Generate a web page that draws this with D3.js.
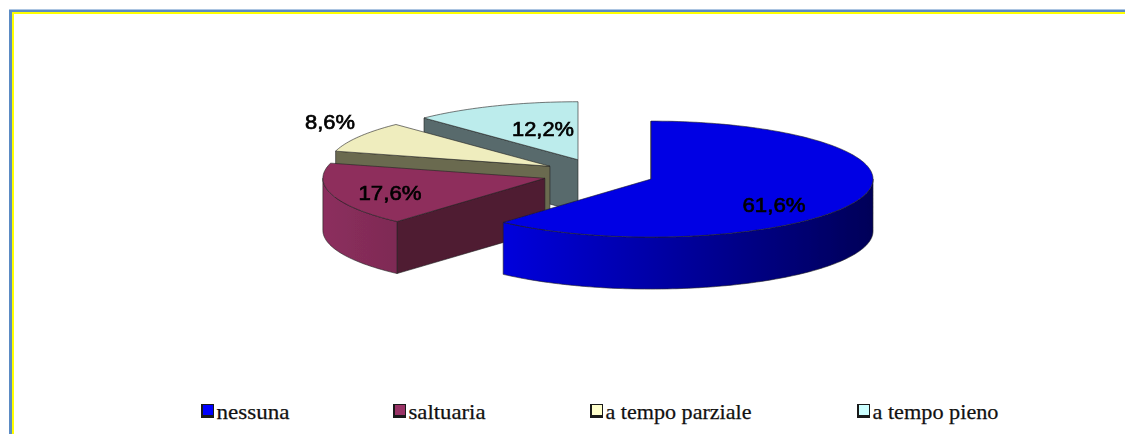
<!DOCTYPE html>
<html>
<head>
<meta charset="utf-8">
<script src="https://cdn.jsdelivr.net/npm/d3@7"></script>
<style>
  html, body { margin: 0; padding: 0; background: #fff; overflow: hidden; }
</style>
</head>
<body>
<div id="chart"></div>
<script>
// values
var categories = ["nessuna", "saltuaria", "a tempo parziale", "a tempo pieno"];
var values = [61.6, 17.6, 8.6, 12.2];
var explode = [0.246, 0.259, 0.262, 0.265];

var topColors = ["#0000e4", "#8e2e5c", "#efedbe", "#bcecec"];
var faceColors = ["#00009a", "#4f1a33", "#6b6a50", "#586a6c"];
var legendColors = ["#0000ff", "#993366", "#ffffcc", "#ccffff"];

var width = 1125, height = 434;
var cx = 600, cy = 174, rx = 222, ry = 58, depth = 52;

var svg = d3.select("#chart").append("svg")
  .attr("width", width)
  .attr("height", height)
  .style("display", "block");

var defs = svg.append("defs");
var soft = defs.append("filter").attr("id", "soft")
  .attr("x", "-5%").attr("y", "-20%").attr("width", "110%").attr("height", "140%");
soft.append("feGaussianBlur").attr("stdDeviation", 0.45);

function wallGradient(id, from, to) {
  var g = defs.append("linearGradient").attr("id", id);
  g.append("stop").attr("offset", "0%").attr("stop-color", from);
  g.append("stop").attr("offset", "100%").attr("stop-color", to);
}
wallGradient("wall0", "#0000dc", "#000058");
wallGradient("wall1", "#8c2f5e", "#7e2a54");

// border of the frame
svg.append("path")
  .attr("d", "M10.5,434V11H1125").attr("fill", "none")
  .attr("stroke", "#5b8bc4").attr("stroke-width", 3);
svg.append("path")
  .attr("d", "M13,434V13H1125").attr("fill", "none")
  .attr("stroke", "#ffff00").attr("stroke-width", 2);

var pie = d3.pie().sort(null).value(function (d) { return d; });
var arcs = pie(values);

var xScale = d3.scaleLinear().domain([-1, 1]).range([-rx, rx]);
var yScale = d3.scaleLinear().domain([-1, 1]).range([ry, -ry]);
var line = d3.line();

function rimPoints(a0, a1, c, dy) {
  var n = Math.max(2, Math.ceil((a1 - a0) * 40));
  return d3.range(n + 1).map(function (i) {
    var a = a0 + (a1 - a0) * i / n;
    return [c[0] + xScale(Math.sin(a)), c[1] + yScale(Math.cos(a)) + dy];
  });
}

var pieG = svg.append("g").attr("filter", "url(#soft)");

function drawPart(d, fill) {
  pieG.append("path")
    .attr("d", line(d) + "Z")
    .attr("fill", fill)
    .attr("stroke", "#222")
    .attr("stroke-width", 0.6)
    .attr("stroke-linejoin", "round");
}

// back slices first, the big one goes on top
[3, 2, 1, 0].forEach(function (i) {
  var a = arcs[i];
  var mid = (a.startAngle + a.endAngle) / 2;
  var c = [
    cx + explode[i] * xScale(Math.sin(mid)),
    cy + explode[i] * yScale(Math.cos(mid))
  ];

  // only the cut at the start angle can be seen from this side
  var p = rimPoints(a.startAngle, a.startAngle, c, 0)[0];
  drawPart([c, p, [p[0], p[1] + depth], [c[0], c[1] + depth]], faceColors[i]);

  // outer wall only where it faces the viewer
  var w0 = Math.max(a.startAngle, Math.PI / 2);
  var w1 = Math.min(a.endAngle, Math.PI * 1.5);
  if (w1 > w0) {
    var up = rimPoints(w0, w1, c, 0);
    var down = rimPoints(w0, w1, c, depth).reverse();
    drawPart(up.concat(down), "url(#wall" + i + ")");
  }

  drawPart([c].concat(rimPoints(a.startAngle, a.endAngle, c, 0)), topColors[i]);
});

// labels
var fmt = function (v) { return v.toFixed(1).replace(".", ",") + "%"; };
var labelPos = [[774, 204], [390, 192], [330, 121], [543, 128]];
var labelW = [63, 63, 50, 62];

svg.append("g").attr("filter", "url(#soft)").selectAll("text")
  .data(values).enter()
  .append("text")
  .attr("x", function (d, i) { return labelPos[i][0]; })
  .attr("y", function (d, i) { return labelPos[i][1]; })
  .attr("dy", "0.36em")
  .attr("text-anchor", "middle")
  .attr("font-family", "'Liberation Sans', Arial, sans-serif")
  .attr("font-size", 21)
  .attr("fill", "#000")
  .attr("stroke", "#000")
  .attr("stroke-width", 0.7)
  .attr("textLength", function (d, i) { return labelW[i]; })
  .attr("lengthAdjust", "spacingAndGlyphs")
  .text(fmt);

// legend
var legendX = [201, 393, 590, 857];
var legendW = [73, 77, 146, 126];

var legend = svg.append("g").selectAll("g")
  .data(categories).enter()
  .append("g")
  .attr("transform", function (d, i) { return "translate(" + legendX[i] + ",404)"; });

legend.append("rect")
  .attr("width", 13).attr("height", 14)
  .attr("fill", "#1a1a1a");

legend.append("rect")
  .attr("x", 2).attr("y", 1)
  .attr("width", 10).attr("height", 10)
  .attr("fill", function (d, i) { return legendColors[i]; });

legend.append("text")
  .attr("x", 15.5)
  .attr("y", 14.5)
  .attr("font-family", "'Liberation Serif', 'Times New Roman', serif")
  .attr("font-size", 22)
  .attr("fill", "#111")
  .attr("stroke", "#111")
  .attr("stroke-width", 0.25)
  .attr("textLength", function (d, i) { return legendW[i]; })
  .attr("lengthAdjust", "spacingAndGlyphs")
  .text(function (d) { return d; });
</script>
</body>
</html>
